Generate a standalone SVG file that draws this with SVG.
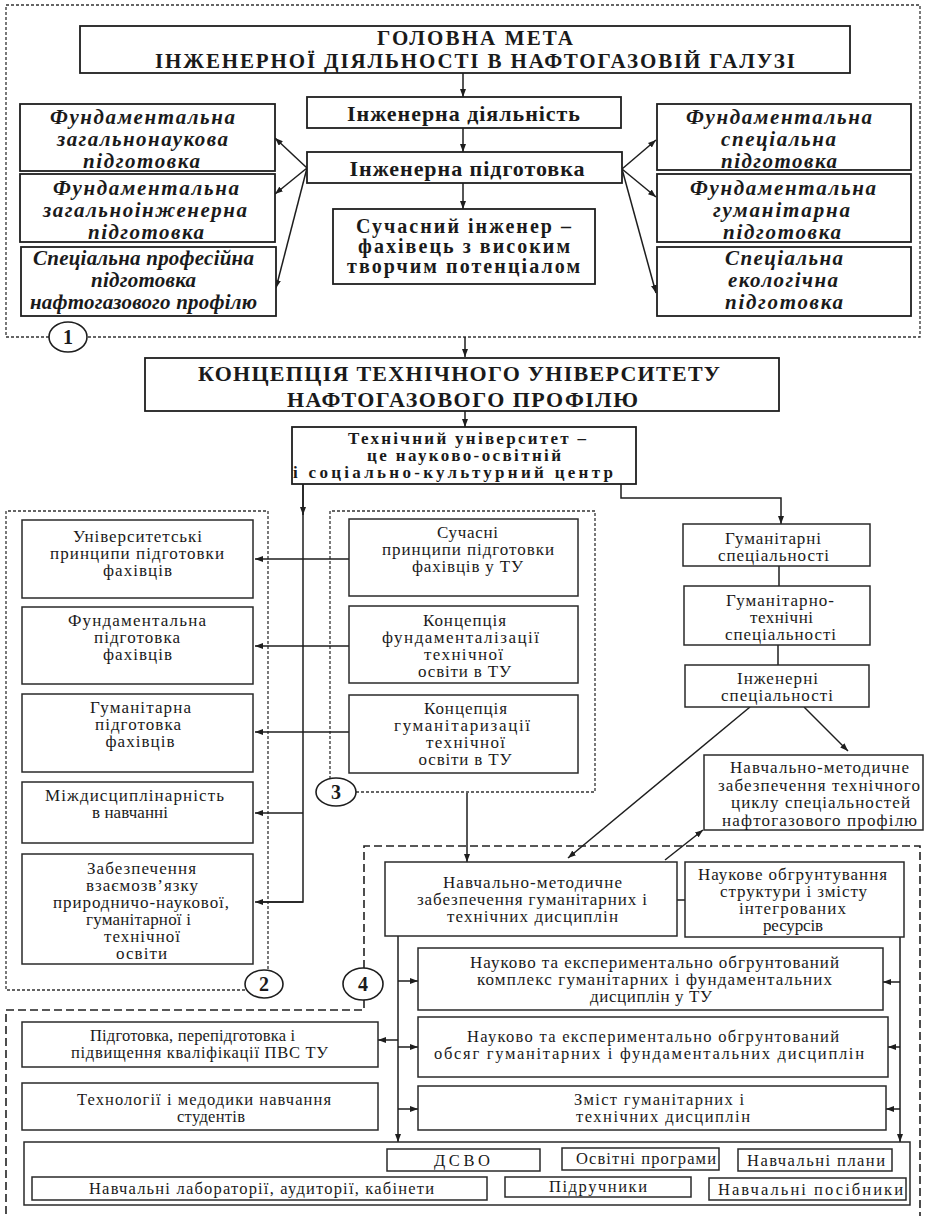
<svg xmlns="http://www.w3.org/2000/svg" width="926" height="1216" viewBox="0 0 926 1216">
<defs>
<marker id="ar" markerWidth="8" markerHeight="6" refX="8" refY="3" orient="auto" markerUnits="userSpaceOnUse"><path d="M0,0 L8,3 L0,6 z" fill="#1e1e1e"/></marker>
<style>
.b{fill:#fff;stroke:#1e1e1e;stroke-width:1.8}
.bt{fill:#fff;stroke:#2a2a2a;stroke-width:1.5}
.t{font-family:"Liberation Serif","Times New Roman",serif;fill:#1a1a1a;text-anchor:middle}
.h{font-size:21px;font-weight:bold}
.hb{font-size:22px;font-weight:bold}
.m{font-size:22px;font-weight:bold}
.m2{font-size:20px;font-weight:bold}
.i{font-size:21px;font-weight:bold;font-style:italic}
.u{font-size:17px;font-weight:bold}
.r{font-size:17px}
.s{font-size:16.5px}
.d1{fill:none;stroke:#333;stroke-width:1.3;stroke-dasharray:3 2}
.d4{fill:none;stroke:#222;stroke-width:1.6;stroke-dasharray:8 4}
.c{fill:none;stroke:#1e1e1e;stroke-width:1.5}
.ca{fill:none;stroke:#1e1e1e;stroke-width:1.5;marker-end:url(#ar)}
.cl{fill:#fff;stroke:#1e1e1e;stroke-width:1.6}
.n{font-family:"Liberation Serif","Times New Roman",serif;font-size:20px;font-weight:bold;fill:#1a1a1a;text-anchor:middle}
</style>
</defs>

<g id="regions">
<path class="d1" d="M49,337 L6,337 L6,5 L920,5 L920,337 L87,337"/>
<path class="d1" d="M245,990 L6,990 L6,511 L268,511 L268,970"/>
<path class="d1" d="M330,779 L330,511 L595,511 L595,792 L356,792"/>
<path class="d4" d="M364,968 L364,846 L920,846 L920,1216"/>
<path class="d4" d="M364,1000 L364,1010 L6,1010 L6,1216"/>
</g>

<g id="connectors">
<path class="ca" d="M463,73 L463,97"/>
<path class="ca" d="M463,128 L463,152"/>
<path class="ca" d="M463,183 L463,209"/>
<path class="ca" d="M307,168 L275,138"/>
<path class="ca" d="M307,168 L275,194"/>
<path class="ca" d="M307,168 L276,288"/>
<path class="ca" d="M622,169 L656,140"/>
<path class="ca" d="M622,169 L656,197"/>
<path class="ca" d="M622,169 L656,293"/>
<path class="ca" d="M465,337 L465,357"/>
<path class="ca" d="M465,411 L465,427"/>
<path class="c" d="M303,484 L303,902 L257,902"/>
<path class="ca" d="M303,484 L303,515"/>
<path class="ca" d="M303,902 L255,902"/>
<path class="ca" d="M303,813 L255,813"/>
<path class="ca" d="M349,559 L255,559"/>
<path class="ca" d="M349,646 L255,646"/>
<path class="ca" d="M349,732 L255,732"/>
<path class="ca" d="M621,484 L621,498 L781,498 L781,524"/>
<path class="c" d="M779,566 L779,586"/>
<path class="c" d="M778,645 L778,665"/>
<path class="ca" d="M750,707 L568,858"/>
<path class="ca" d="M804,707 L848,751"/>
<path class="ca" d="M665,860 L703,830"/>
<path class="ca" d="M467,793 L467,862"/>
<path class="c" d="M677,900 L685,900"/>
<path class="ca" d="M398,936 L398,1142"/>
<path class="ca" d="M900,937 L900,1142"/>
<path class="ca" d="M398,981 L418,981"/>
<path class="ca" d="M398,1040 L378,1040"/>
<path class="ca" d="M398,1047 L418,1047"/>
<path class="ca" d="M398,1109 L418,1109"/>
<path class="ca" d="M900,982 L883,982"/>
<path class="ca" d="M900,1047 L888,1047"/>
<path class="ca" d="M900,1109 L886,1109"/>
<path class="c" d="M719,1160 L738,1160"/>
<path class="c" d="M691,1187 L709,1187"/>
</g>

<g id="marks">
<ellipse class="cl" cx="68" cy="337" rx="19" ry="15"/><text class="n" x="68" y="344">1</text>
<ellipse class="cl" cx="264" cy="984" rx="19" ry="14"/><text class="n" x="264" y="991">2</text>
<ellipse class="cl" cx="336" cy="792" rx="20" ry="14"/><text class="n" x="336" y="799">3</text>
<ellipse class="cl" cx="363" cy="984" rx="20" ry="16"/><text class="n" x="363" y="991">4</text>
</g>

<g id="n-title"><rect class="b" x="80" y="26" width="770" height="47"/>
<text class="t h" x="475" y="45" textLength="196" lengthAdjust="spacing">ГОЛОВНА МЕТА</text>
<text class="t h" x="475" y="68" textLength="640" lengthAdjust="spacing">ІНЖЕНЕРНОЇ ДІЯЛЬНОСТІ В НАФТОГАЗОВІЙ ГАЛУЗІ</text></g>
<g id="n-id"><rect class="b" x="307" y="97" width="314" height="31"/>
<text class="t m" x="463.5" y="121" textLength="233" lengthAdjust="spacing">Інженерна діяльність</text></g>
<g id="n-ip"><rect class="b" x="307" y="152" width="315" height="31"/>
<text class="t m" x="467" y="176" textLength="235" lengthAdjust="spacing">Інженерна підготовка</text></g>
<g id="n-si"><rect class="b" x="333" y="209" width="262" height="75"/>
<text class="t m2" x="463.5" y="233" textLength="215" lengthAdjust="spacing">Сучасний інженер –</text>
<text class="t m2" x="464" y="253" textLength="212" lengthAdjust="spacing">фахівець з високим</text>
<text class="t m2" x="463.5" y="273" textLength="233" lengthAdjust="spacing">творчим потенціалом</text></g>

<g id="n-a"><rect class="b" x="20" y="104" width="255" height="67"/>
<text class="t i" x="142.5" y="124" textLength="185" lengthAdjust="spacing">Фундаментальна</text>
<text class="t i" x="142.5" y="146" textLength="171" lengthAdjust="spacing">загальнонаукова</text>
<text class="t i" x="141.5" y="168" textLength="117" lengthAdjust="spacing">підготовка</text></g>
<g id="n-b"><rect class="b" x="20" y="174" width="255" height="68"/>
<text class="t i" x="146" y="195" textLength="186" lengthAdjust="spacing">Фундаментальна</text>
<text class="t i" x="145" y="217" textLength="204" lengthAdjust="spacing">загальноінженерна</text>
<text class="t i" x="146" y="239" textLength="116" lengthAdjust="spacing">підготовка</text></g>
<g id="n-c"><rect class="b" x="21" y="247" width="255" height="69"/>
<text class="t i" x="143.5" y="265" textLength="221" lengthAdjust="spacing">Спеціальна професійна</text>
<text class="t i" x="143.5" y="287" textLength="105" lengthAdjust="spacing">підготовка</text>
<text class="t i" x="143.5" y="309" textLength="227" lengthAdjust="spacing">нафтогазового профілю</text></g>

<g id="n-d"><rect class="b" x="657" y="104" width="254" height="66"/>
<text class="t i" x="779" y="124" textLength="186" lengthAdjust="spacing">Фундаментальна</text>
<text class="t i" x="778.5" y="146" textLength="115" lengthAdjust="spacing">спеціальна</text>
<text class="t i" x="779" y="168" textLength="116" lengthAdjust="spacing">підготовка</text></g>
<g id="n-e"><rect class="b" x="657" y="174" width="254" height="68"/>
<text class="t i" x="783" y="195" textLength="186" lengthAdjust="spacing">Фундаментальна</text>
<text class="t i" x="781.5" y="217" textLength="137" lengthAdjust="spacing">гуманітарна</text>
<text class="t i" x="782" y="239" textLength="118" lengthAdjust="spacing">підготовка</text></g>
<g id="n-f"><rect class="b" x="657" y="247" width="254" height="69"/>
<text class="t i" x="784" y="265" textLength="118" lengthAdjust="spacing">Спеціальна</text>
<text class="t i" x="783" y="287" textLength="110" lengthAdjust="spacing">екологічна</text>
<text class="t i" x="784" y="309" textLength="118" lengthAdjust="spacing">підготовка</text></g>

<g id="n-concept"><rect class="b" x="145" y="358" width="634" height="53"/>
<text class="t hb" x="459" y="381" textLength="522" lengthAdjust="spacing">КОНЦЕПЦІЯ ТЕХНІЧНОГО УНІВЕРСИТЕТУ</text>
<text class="t hb" x="462.5" y="407" textLength="351" lengthAdjust="spacing">НАФТОГАЗОВОГО ПРОФІЛЮ</text></g>
<g id="n-tu"><rect class="b" x="292" y="427" width="344" height="57"/>
<text class="t u" x="467" y="444" textLength="238" lengthAdjust="spacing">Технічний університет –</text>
<text class="t u" x="464" y="461" textLength="194" lengthAdjust="spacing">це науково-освітній</text>
<text class="t u" x="453" y="478" textLength="320" lengthAdjust="spacing">і соціально-культурний центр</text></g>

<g id="n-l1"><rect class="bt" x="22" y="520" width="231" height="78"/>
<text class="t r" x="137.5" y="542" textLength="129" lengthAdjust="spacing">Університетські</text>
<text class="t r" x="137" y="559" textLength="174" lengthAdjust="spacing">принципи підготовки</text>
<text class="t r" x="137.5" y="576" textLength="69" lengthAdjust="spacing">фахівців</text></g>
<g id="n-l2"><rect class="bt" x="22" y="607" width="231" height="77"/>
<text class="t r" x="137" y="626" textLength="138" lengthAdjust="spacing">Фундаментальна</text>
<text class="t r" x="137" y="643" textLength="86" lengthAdjust="spacing">підготовка</text>
<text class="t r" x="137.5" y="660" textLength="69" lengthAdjust="spacing">фахівців</text></g>
<g id="n-l3"><rect class="bt" x="22" y="694" width="231" height="78"/>
<text class="t r" x="140.5" y="713" textLength="101" lengthAdjust="spacing">Гуманітарна</text>
<text class="t r" x="138" y="730" textLength="86" lengthAdjust="spacing">підготовка</text>
<text class="t r" x="140" y="747" textLength="69" lengthAdjust="spacing">фахівців</text></g>
<g id="n-l4"><rect class="bt" x="22" y="782" width="231" height="61"/>
<text class="t r" x="134.5" y="801" textLength="179" lengthAdjust="spacing">Міждисциплінарність</text>
<text class="t r" x="130" y="818" textLength="76" lengthAdjust="spacing">в навчанні</text></g>
<g id="n-l5"><rect class="bt" x="22" y="854" width="231" height="110"/>
<text class="t r" x="141.5" y="874" textLength="109" lengthAdjust="spacing">Забезпечення</text>
<text class="t r" x="142" y="891" textLength="112" lengthAdjust="spacing">взаємозв’язку</text>
<text class="t r" x="141" y="908" textLength="176" lengthAdjust="spacing">природничо-наукової,</text>
<text class="t r" x="138.5" y="925" textLength="105" lengthAdjust="spacing">гуманітарної і</text>
<text class="t r" x="142" y="942" textLength="76" lengthAdjust="spacing">технічної</text>
<text class="t r" x="141.5" y="959" textLength="51" lengthAdjust="spacing">освіти</text></g>

<g id="n-m1"><rect class="bt" x="349" y="519" width="229" height="77"/>
<text class="t r" x="467.5" y="538" textLength="61" lengthAdjust="spacing">Сучасні</text>
<text class="t r" x="468" y="555" textLength="172" lengthAdjust="spacing">принципи підготовки</text>
<text class="t r" x="467.5" y="572" textLength="111" lengthAdjust="spacing">фахівців у ТУ</text></g>
<g id="n-m2"><rect class="bt" x="349" y="606" width="229" height="77"/>
<text class="t r" x="464.5" y="626" textLength="83" lengthAdjust="spacing">Концепція</text>
<text class="t r" x="460.5" y="643" textLength="157" lengthAdjust="spacing">фундаменталізації</text>
<text class="t r" x="463.5" y="660" textLength="79" lengthAdjust="spacing">технічної</text>
<text class="t r" x="464.5" y="677" textLength="93" lengthAdjust="spacing">освіти в ТУ</text></g>
<g id="n-m3"><rect class="bt" x="349" y="695" width="229" height="78"/>
<text class="t r" x="465.5" y="714" textLength="83" lengthAdjust="spacing">Концепція</text>
<text class="t r" x="462" y="731" textLength="136" lengthAdjust="spacing">гуманітаризації</text>
<text class="t r" x="465.5" y="748" textLength="79" lengthAdjust="spacing">технічної</text>
<text class="t r" x="465" y="765" textLength="93" lengthAdjust="spacing">освіти в ТУ</text></g>

<g id="n-r1"><rect class="bt" x="683" y="524" width="187" height="42"/>
<text class="t r" x="773" y="544" textLength="96" lengthAdjust="spacing">Гуманітарні</text>
<text class="t r" x="773.5" y="561" textLength="111" lengthAdjust="spacing">спеціальності</text></g>
<g id="n-r2"><rect class="bt" x="684" y="586" width="186" height="59"/>
<text class="t r" x="780" y="606" textLength="108" lengthAdjust="spacing">Гуманітарно-</text>
<text class="t r" x="781.5" y="623" textLength="63" lengthAdjust="spacing">технічні</text>
<text class="t r" x="780.5" y="640" textLength="111" lengthAdjust="spacing">спеціальності</text></g>
<g id="n-r3"><rect class="bt" x="685" y="665" width="184" height="42"/>
<text class="t r" x="777.5" y="684" textLength="81" lengthAdjust="spacing">Інженерні</text>
<text class="t r" x="777" y="701" textLength="112" lengthAdjust="spacing">спеціальності</text></g>
<g id="n-r4"><rect class="bt" x="704" y="755" width="219" height="75"/>
<text class="t r" x="819.5" y="773" textLength="179" lengthAdjust="spacing">Навчально-методичне</text>
<text class="t r" x="819" y="791" textLength="202" lengthAdjust="spacing">забезпечення технічного</text>
<text class="t r" x="820.5" y="808" textLength="179" lengthAdjust="spacing">циклу спеціальностей</text>
<text class="t r" x="819.5" y="826" textLength="195" lengthAdjust="spacing">нафтогазового профілю</text></g>

<g id="n-nm"><rect class="bt" x="385" y="862" width="292" height="74"/>
<text class="t r" x="532.5" y="888" textLength="179" lengthAdjust="spacing">Навчально-методичне</text>
<text class="t r" x="532" y="905" textLength="230" lengthAdjust="spacing">забезпечення гуманітарних і</text>
<text class="t r" x="532.5" y="922" textLength="171" lengthAdjust="spacing">технічних дисциплін</text></g>
<g id="n-no"><rect class="bt" x="685" y="862" width="219" height="75"/>
<text class="t r" x="792.5" y="880" textLength="189" lengthAdjust="spacing">Наукове обгрунтування</text>
<text class="t r" x="793.5" y="897" textLength="147" lengthAdjust="spacing">структури і змісту</text>
<text class="t r" x="792.5" y="914" textLength="107" lengthAdjust="spacing">інтегрованих</text>
<text class="t r" x="793" y="931" textLength="60" lengthAdjust="spacing">ресурсів</text></g>
<g id="n-k1"><rect class="bt" x="418" y="948" width="465" height="62"/>
<text class="t r" x="654.5" y="968" textLength="369" lengthAdjust="spacing">Науково та експериментально обгрунтований</text>
<text class="t r" x="654.5" y="985" textLength="355" lengthAdjust="spacing">комплекс  гуманітарних і фундаментальних</text>
<text class="t r" x="651" y="1002" textLength="122" lengthAdjust="spacing">дисциплін у ТУ</text></g>
<g id="n-k2"><rect class="bt" x="418" y="1017" width="470" height="60"/>
<text class="t s" x="653" y="1042" textLength="372" lengthAdjust="spacing">Науково та експериментально обгрунтований</text>
<text class="t s" x="649" y="1059" textLength="430" lengthAdjust="spacing">обсяг гуманітарних і фундаментальних  дисциплін</text></g>
<g id="n-p"><rect class="bt" x="22" y="1022" width="356" height="45"/>
<text class="t s" x="192.5" y="1041" textLength="205" lengthAdjust="spacing">Підготовка, перепідготовка і</text>
<text class="t s" x="199.5" y="1058" textLength="257" lengthAdjust="spacing">підвищення кваліфікації ПВС ТУ</text></g>
<g id="n-t"><rect class="bt" x="22" y="1083" width="356" height="47"/>
<text class="t s" x="204" y="1105" textLength="254" lengthAdjust="spacing">Технології і медодики навчання</text>
<text class="t s" x="211" y="1122" textLength="68" lengthAdjust="spacing">студентів</text></g>
<g id="n-z"><rect class="bt" x="418" y="1086" width="468" height="44"/>
<text class="t s" x="659" y="1105" textLength="170" lengthAdjust="spacing">Зміст гуманітарних і</text>
<text class="t s" x="663" y="1122" textLength="174" lengthAdjust="spacing">технічних дисциплін</text></g>

<g id="n-big"><rect class="bt" x="24" y="1142" width="886" height="63"/></g>
<g id="n-dsvo"><rect class="bt" x="387" y="1149" width="153" height="22"/>
<text class="t s" x="462" y="1166" textLength="56" lengthAdjust="spacing">ДСВО</text></g>
<g id="n-op"><rect class="bt" x="562" y="1148" width="157" height="22"/>
<text class="t s" x="646" y="1164" textLength="140" lengthAdjust="spacing">Освітні програми</text></g>
<g id="n-np"><rect class="bt" x="738" y="1149" width="154" height="22"/>
<text class="t s" x="816" y="1166" textLength="138" lengthAdjust="spacing">Навчальні плани</text></g>
<g id="n-nl"><rect class="bt" x="32" y="1177" width="455" height="23"/>
<text class="t s" x="261.5" y="1194" textLength="345" lengthAdjust="spacing">Навчальні лабораторії, аудиторії, кабінети</text></g>
<g id="n-pidr"><rect class="bt" x="505" y="1177" width="186" height="20"/>
<text class="t s" x="598" y="1192" textLength="98" lengthAdjust="spacing">Підручники</text></g>
<g id="n-npos"><rect class="bt" x="709" y="1178" width="197" height="22"/>
<text class="t s" x="810.5" y="1195" textLength="185" lengthAdjust="spacing">Навчальні посібники</text></g>
</svg>
